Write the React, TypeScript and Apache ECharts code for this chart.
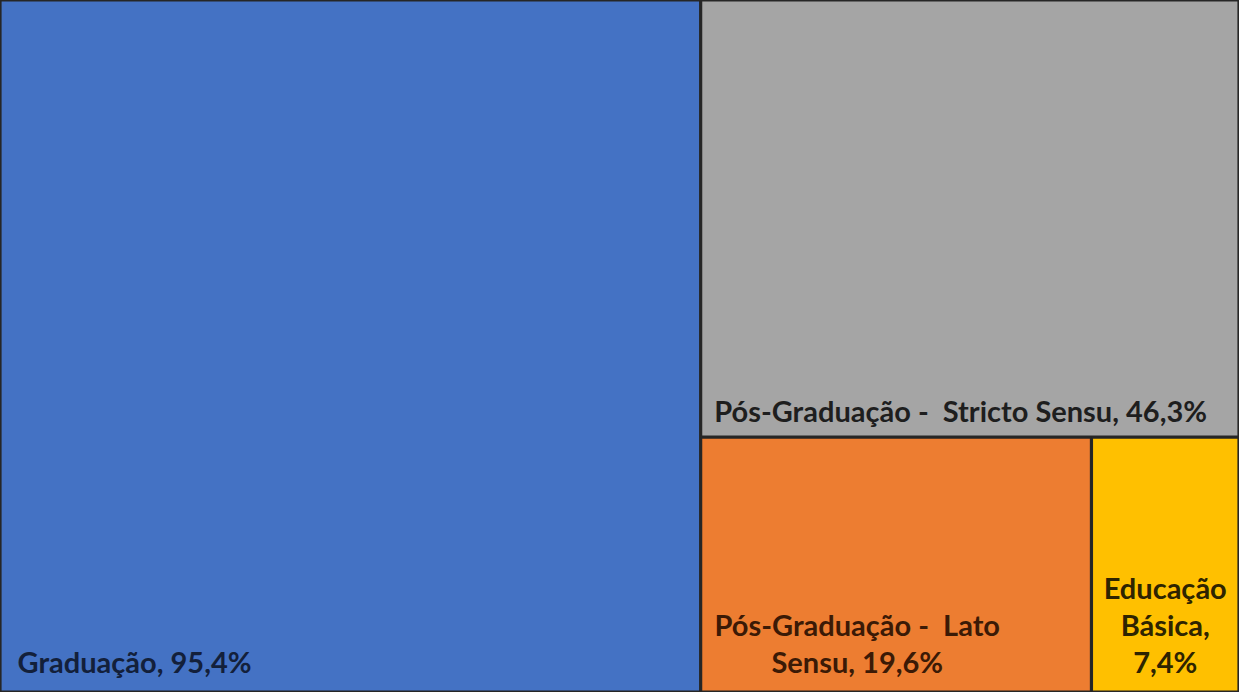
import React, { useEffect, useRef } from "react";
import * as echarts from "echarts";

const names = [
  "Graduação",
  "Pós-Graduação -  Stricto Sensu",
  "Pós-Graduação -  Lato Sensu",
  "Educação Básica",
];
const values = [95.4, 46.3, 19.6, 7.4];
const labelTexts = [
  "Graduação, 95,4%",
  "Pós-Graduação -  Stricto Sensu, 46,3%",
  "Pós-Graduação -  Lato\nSensu, 19,6%",
  "Educação\nBásica,\n7,4%",
];
const fillColors = ["#4472C4", "#A5A5A5", "#ED7D31", "#FFC000"];
const textColors = ["#13203b", "#1e1e1e", "#3b1a06", "#2e2400"];

export default function App() {
  const ref = useRef<HTMLDivElement>(null);
  useEffect(() => {
    document.body.style.margin = "0";
    const chart = echarts.init(ref.current!, undefined, { renderer: "svg" });
    const labelPlacement: any[] = [
      { position: "insideBottomLeft", distance: 10, padding: [0, 0, 0, 6], align: "left" },
      { position: "insideBottomLeft", distance: 7, padding: [0, 0, 0, 5], align: "left" },
      { position: ["40%", "98%"], align: "center", verticalAlign: "bottom" },
      { position: ["50%", "98%"], align: "center", verticalAlign: "bottom" },
    ];
    const data = names.map((n, i) => ({
      name: n,
      value: values[i],
      itemStyle: { color: fillColors[i] },
      label: {
        show: true,
        formatter: labelTexts[i],
        color: textColors[i],
        ...labelPlacement[i],
      },
    }));
    chart.setOption({
      animation: false,
      series: [
        {
          type: "treemap",
          left: 0,
          top: 0,
          right: 0,
          bottom: 0,
          roam: false,
          nodeClick: false,
          breadcrumb: { show: false },
          sort: "desc",
          itemStyle: { borderColor: "#262626", borderWidth: 1.6, gapWidth: 0 },
          label: {
            show: true,
            fontFamily: "Lato",
            fontWeight: "bold",
            fontSize: 29,
            lineHeight: 37,
            overflow: "none",
          },
          levels: [{ itemStyle: { borderWidth: 0, gapWidth: 0 } }],
          data,
        },
      ],
    });
    return () => chart.dispose();
  }, []);
  return <div ref={ref} style={{ width: 1239, height: 692 }} />;
}
